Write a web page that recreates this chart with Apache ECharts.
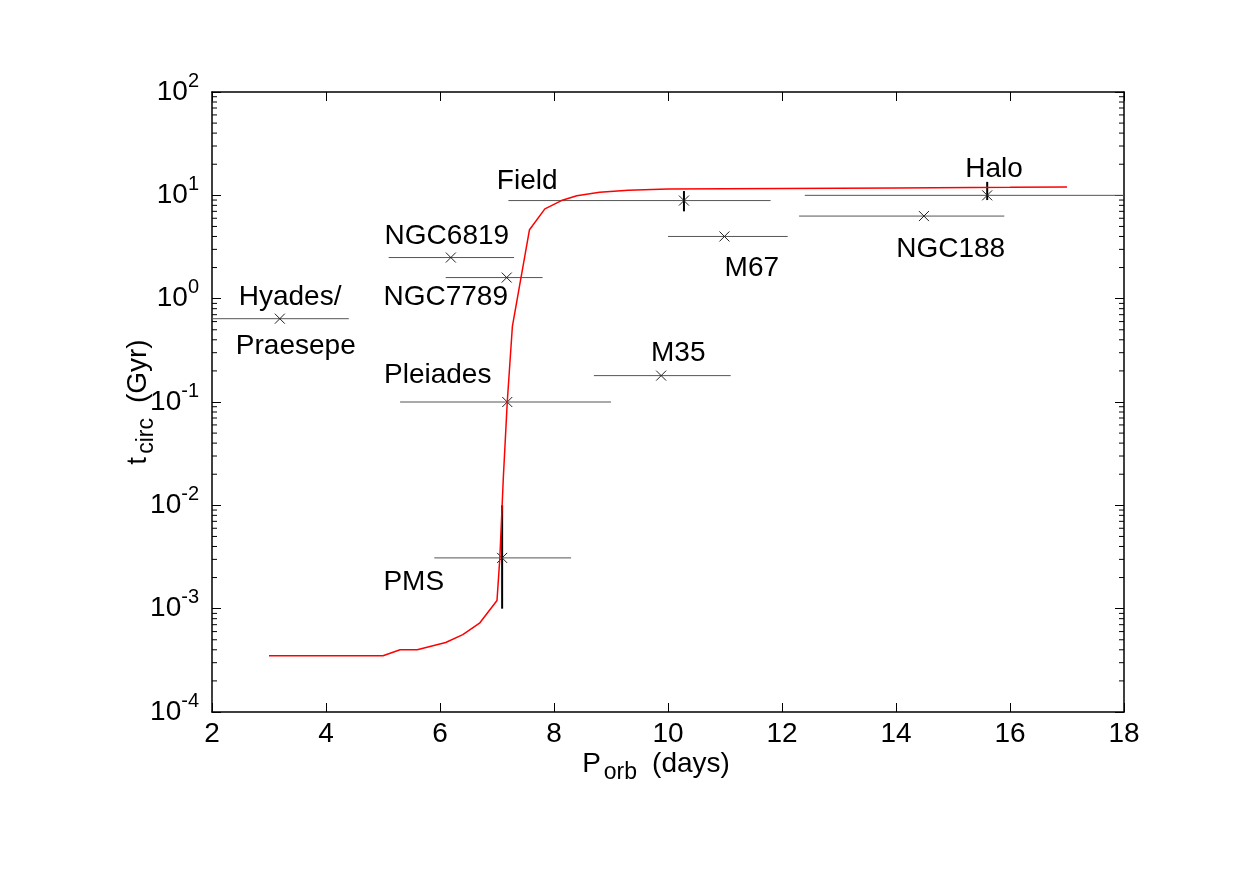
<!DOCTYPE html>
<html>
<head>
<meta charset="utf-8">
<script src="https://cdn.jsdelivr.net/npm/echarts@6/dist/echarts.min.js"></script>
<style>
html,body{margin:0;padding:0;background:#fff;}
#chart{width:1245px;height:881px;}
</style>
</head>
<body>
<div id="chart"></div>
<script>
// ---- Data ----
const clusterNames = ['Hyades/Praesepe', 'NGC6819', 'NGC7789', 'Field', 'M67', 'Halo', 'NGC188', 'M35', 'Pleiades', 'PMS'];
const clusterP     = [3.19, 6.19, 7.17, 10.28, 10.99, 15.6, 14.49, 9.88, 7.18, 7.09];
const clusterPLo   = [2.0, 5.1, 6.1, 7.2, 10.0, 12.4, 12.3, 8.7, 5.3, 5.9];
const clusterPHi   = [4.4, 7.3, 7.8, 11.8, 12.1, 18.0, 15.9, 11.1, 9.0, 8.3];
const clusterT     = [0.64, 2.5, 1.6, 8.9, 4.0, 10, 6.3, 0.18, 0.1, 0.0031];
const clusterTLo   = [null, null, null, 7.0, null, 9.0, null, null, null, 0.001];
const clusterTHi   = [null, null, null, 11.0, null, 13.5, null, null, null, 0.01];

const curveP = [3.0, 5.0, 5.3, 5.6, 6.1, 6.4, 6.7, 7.0, 7.05, 7.11, 7.18, 7.27, 7.57, 7.84, 8.13, 8.4, 8.8, 9.3, 10, 12, 14, 16, 17];
const curveT = [3.5e-4, 3.5e-4, 4.0e-4, 4.0e-4, 4.7e-4, 5.6e-4, 7.3e-4, 1.2e-3, 3.1e-3, 1.8e-2, 0.1, 0.54, 4.65, 7.4, 8.9, 9.9, 10.7, 11.2, 11.5, 11.65, 11.8, 11.95, 12.05];

const labelText = ['Field', 'Halo', 'NGC6819', 'NGC7789', 'Hyades/', 'Praesepe', 'M67', 'NGC188', 'M35', 'Pleiades', 'PMS'];
const labelP    = [7.53, 15.72, 6.12, 6.1, 3.37, 3.47, 11.47, 14.96, 10.18, 5.96, 5.54];
const labelT    = [13.6, 17.7, 3.98, 1.02, 1.02, 0.345, 1.95, 2.98, 0.294, 0.18, 0.00179];

const xMin = 2, xMax = 18, xStep = 2;
const yMin = 1e-4, yMax = 100;
const xTitle = '{a|P}{s|orb}{a|(days)}';
const yTitle = '{a|t}{s|circ}{a|(Gyr)}';

// ---- build ----
const FONT = '"Liberation Sans", Arial, Helvetica, sans-serif';
const minorTicks = [];
for (let e = Math.log10(yMin); e < Math.log10(yMax); e++) {
  for (let d = 2; d <= 9; d++) minorTicks.push([xMin, d * Math.pow(10, e)]);
}

const chart = echarts.init(document.getElementById('chart'), null, {renderer: 'canvas'});

const axisLineStyle = {lineStyle: {color: '#000', width: 1.5}};
const titleRich = {
  a: {fontSize: 28, fontFamily: FONT, color: '#000', lineHeight: 40},
  s: {fontSize: 23, fontFamily: FONT, color: '#000', lineHeight: 40, verticalAlign: 'bottom', padding: [0, 15, 0, 3]}
};
const option = {
  animation: false,
  backgroundColor: '#fff',
  grid: {left: 212, right: 121, top: 92, bottom: 169, containLabel: false},
  xAxis: [{
    type: 'value', min: xMin, max: xMax, interval: xStep, position: 'bottom',
    axisLine: axisLineStyle,
    axisTick: {inside: true, length: 9, lineStyle: {color: '#000', width: 1}},
    axisLabel: {color: '#000', fontSize: 28, fontFamily: FONT, margin: 8},
    splitLine: {show: false},
    name: xTitle, nameLocation: 'middle', nameGap: 32, nameMoveOverlap: false,
    nameTextStyle: {color: '#000', fontFamily: FONT, rich: titleRich, padding: [0, 24, 0, 0]}
  }, {
    type: 'value', min: xMin, max: xMax, interval: xStep, position: 'top',
    axisLine: axisLineStyle,
    axisTick: {inside: true, length: 9, lineStyle: {color: '#000', width: 1}},
    axisLabel: {show: false}, splitLine: {show: false}
  }],
  yAxis: [{
    type: 'log', logBase: 10, min: yMin, max: yMax, position: 'left',
    axisLine: axisLineStyle,
    axisTick: {inside: true, length: 9, lineStyle: {color: '#000', width: 1}},
    axisLabel: {
      margin: 13, fontFamily: FONT, color: '#000',
      formatter: function (v) {
        const e = Math.round(Math.log10(v));
        return '{b|10}{s|' + e + '}';
      },
      rich: {
        b: {fontSize: 28, fontFamily: FONT, color: '#000', lineHeight: 42},
        s: {fontSize: 20, fontFamily: FONT, color: '#000', lineHeight: 42, verticalAlign: 'top'}
      }
    },
    splitLine: {show: false},
    name: yTitle, nameLocation: 'middle', nameGap: 54, nameRotate: 90, nameMoveOverlap: false,
    nameTextStyle: {color: '#000', fontFamily: FONT, rich: titleRich}
  }, {
    type: 'log', logBase: 10, min: yMin, max: yMax, position: 'right',
    axisLine: axisLineStyle,
    axisTick: {inside: true, length: 9, lineStyle: {color: '#000', width: 1}},
    axisLabel: {show: false}, splitLine: {show: false}
  }],
  series: [
    {
      // minor log ticks (left and right frame)
      type: 'custom', xAxisIndex: 0, yAxisIndex: 0, clip: false, silent: true,
      data: minorTicks,
      renderItem: function (params, api) {
        const v = api.value(1);
        const l = api.coord([xMin, v]);
        const r = api.coord([xMax, v]);
        return {type: 'group', children: [
          {type: 'line', shape: {x1: l[0], y1: l[1], x2: l[0] + 5, y2: l[1]}, style: {stroke: '#000', lineWidth: 1}},
          {type: 'line', shape: {x1: r[0] - 5, y1: r[1], x2: r[0], y2: r[1]}, style: {stroke: '#000', lineWidth: 1}}
        ]};
      }
    },
    {
      // cluster error bars and markers
      type: 'custom', xAxisIndex: 0, yAxisIndex: 0, silent: true, z: 3,
      data: clusterP.map((p, i) => [p, clusterT[i]]),
      renderItem: function (params, api) {
        const i = params.dataIndex;
        const x = clusterP[i], y = clusterT[i];
        const c = api.coord([x, y]);
        const a = api.coord([clusterPLo[i], y]);
        const b = api.coord([clusterPHi[i], y]);
        const ch = [{type: 'line', shape: {x1: a[0], y1: a[1], x2: b[0], y2: b[1]}, style: {stroke: '#555', lineWidth: 1}}];
        if (clusterTLo[i] != null && clusterTHi[i] != null) {
          const p1 = api.coord([x, clusterTLo[i]]);
          const p2 = api.coord([x, clusterTHi[i]]);
          ch.push({type: 'line', shape: {x1: p1[0], y1: p1[1], x2: p2[0], y2: p2[1]}, style: {stroke: '#000', lineWidth: 2}});
        }
        const s = 5;
        ch.push({type: 'line', shape: {x1: c[0] - s, y1: c[1] - s, x2: c[0] + s, y2: c[1] + s}, style: {stroke: '#222', lineWidth: 1}});
        ch.push({type: 'line', shape: {x1: c[0] - s, y1: c[1] + s, x2: c[0] + s, y2: c[1] - s}, style: {stroke: '#222', lineWidth: 1}});
        return {type: 'group', children: ch};
      }
    },
    {
      type: 'line', xAxisIndex: 0, yAxisIndex: 0, z: 4,
      data: curveP.map((p, i) => [p, curveT[i]]),
      showSymbol: false, symbol: 'none', smooth: false,
      lineStyle: {color: '#ff0000', width: 1.5}
    },
    {
      // text annotations
      type: 'custom', xAxisIndex: 0, yAxisIndex: 0, clip: false, silent: true, z: 5,
      data: labelP.map((p, i) => [p, labelT[i]]),
      renderItem: function (params, api) {
        const i = params.dataIndex;
        const c = api.coord([labelP[i], labelT[i]]);
        return {
          type: 'text', x: c[0], y: c[1],
          style: {text: labelText[i], fill: '#000', font: '28px ' + FONT, align: 'center', verticalAlign: 'middle'}
        };
      }
    }
  ]
};
chart.setOption(option);
</script>
</body>
</html>
